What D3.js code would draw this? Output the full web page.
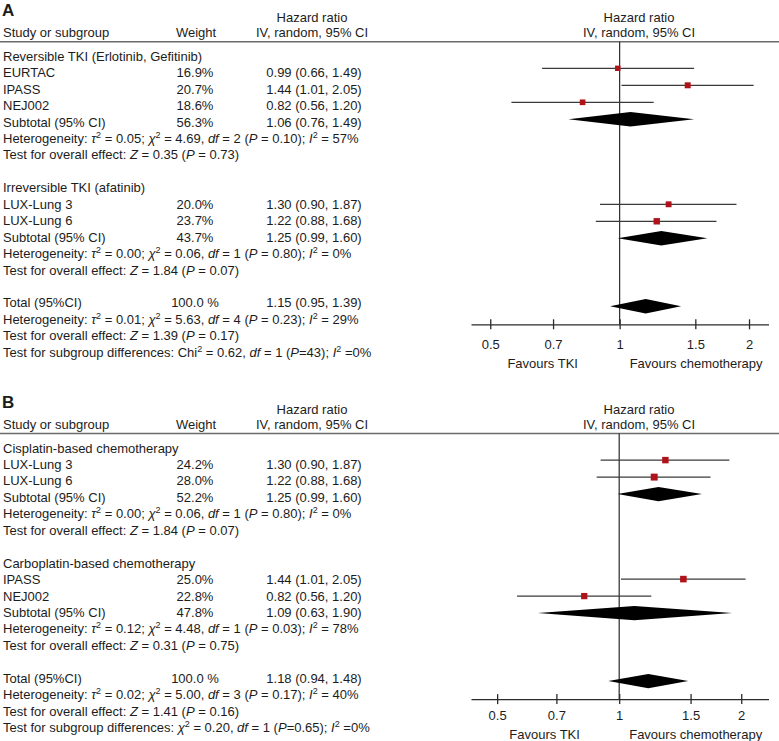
<!DOCTYPE html>
<html>
<head>
<meta charset="utf-8">
<script src="https://cdn.jsdelivr.net/npm/d3@7"></script>
<style>
  body { margin: 0; background: #fff; }
  text { font-family: "Liberation Sans", Arial, sans-serif; fill: #1c1c1c; }
</style>
</head>
<body>
<svg id="plot-space" width="779" height="741"></svg>
<script>
// ---- panel A : TKI type ----
const groupsA = ["Reversible TKI (Erlotinib, Gefitinib)", "Irreversible TKI (afatinib)"];
const studiesA = ["EURTAC", "IPASS", "NEJ002", "LUX-Lung 3", "LUX-Lung 6"];
const studyGroupA = [0, 0, 0, 1, 1];
const weightsA = [16.9, 20.7, 18.6, 20.0, 23.7];
const hrA = [0.99, 1.44, 0.82, 1.30, 1.22];
const lowA = [0.66, 1.01, 0.56, 0.90, 0.88];
const highA = [1.49, 2.05, 1.20, 1.87, 1.68];
const subWeightA = [56.3, 43.7];
const subHrA = [1.06, 1.25];
const subLowA = [0.76, 0.99];
const subHighA = [1.49, 1.60];
const hetA = [
  "Heterogeneity: {i:τ}{s:2} = 0.05; {i:χ}{s:2} = 4.69, {i:df} = 2 ({i:P} = 0.10); {i:I}{s:2} = 57%",
  "Heterogeneity: {i:τ}{s:2} = 0.00; {i:χ}{s:2} = 0.06, {i:df} = 1 ({i:P} = 0.80); {i:I}{s:2} = 0%"];
const effectA = [
  "Test for overall effect: {i:Z} = 0.35 ({i:P} = 0.73)",
  "Test for overall effect: {i:Z} = 1.84 ({i:P} = 0.07)"];
const totalA = [1.15, 0.95, 1.39];
const totalTextA = [
  "Heterogeneity: {i:τ}{s:2} = 0.01; {i:χ}{s:2} = 5.63, {i:df} = 4 ({i:P} = 0.23); {i:I}{s:2} = 29%",
  "Test for overall effect: {i:Z} = 1.39 ({i:P} = 0.17)",
  "Test for subgroup differences: Chi{s:2} = 0.62, {i:df} = 1 ({i:P}=43); {i:I}{s:2} =0%"];

// ---- panel B : chemotherapy type ----
const groupsB = ["Cisplatin-based chemotherapy", "Carboplatin-based chemotherapy"];
const studiesB = ["LUX-Lung 3", "LUX-Lung 6", "IPASS", "NEJ002"];
const studyGroupB = [0, 0, 1, 1];
const weightsB = [24.2, 28.0, 25.0, 22.8];
const hrB = [1.30, 1.22, 1.44, 0.82];
const lowB = [0.90, 0.88, 1.01, 0.56];
const highB = [1.87, 1.68, 2.05, 1.20];
const subWeightB = [52.2, 47.8];
const subHrB = [1.25, 1.09];
const subLowB = [0.99, 0.63];
const subHighB = [1.60, 1.90];
const hetB = [
  "Heterogeneity: {i:τ}{s:2} = 0.00; {i:χ}{s:2} = 0.06, {i:df} = 1 ({i:P} = 0.80); {i:I}{s:2} = 0%",
  "Heterogeneity: {i:τ}{s:2} = 0.12; {i:χ}{s:2} = 4.48, {i:df} = 1 ({i:P} = 0.03); {i:I}{s:2} = 78%"];
const effectB = [
  "Test for overall effect: {i:Z} = 1.84 ({i:P} = 0.07)",
  "Test for overall effect: {i:Z} = 0.31 ({i:P} = 0.75)"];
const totalB = [1.18, 0.94, 1.48];
const totalTextB = [
  "Heterogeneity: {i:τ}{s:2} = 0.02; {i:χ}{s:2} = 5.00, {i:df} = 3 ({i:P} = 0.17); {i:I}{s:2} = 40%",
  "Test for overall effect: {i:Z} = 1.41 ({i:P} = 0.16)",
  "Test for subgroup differences: {i:χ}{s:2} = 0.20, {i:df} = 1 ({i:P}=0.65); {i:I}{s:2} =0%"];

const tickVals = [0.5, 0.7, 1, 1.5, 2];

const canvas = d3.select("svg");
const FS = 13;
const f2 = d3.format(".2f");
const hrText = (h, l, u) => `${f2(h)} (${f2(l)}, ${f2(u)})`;
const boxSize = d3.scaleSqrt().domain([0, 30]).range([0, 7.2]);

// {i:..} italic, {s:..} superscript
function rich(t, str) {
  let shift = 0;
  str.split(/(\{[is]:[^}]*\})/).forEach(p => {
    if (!p) return;
    const m = p.match(/^\{([is]):([^}]*)\}$/);
    const ts = t.append("tspan");
    if (m && m[1] === "s") {
      ts.attr("dy", -5).attr("font-size", 9).text(m[2]);
      shift = 5;
      return;
    }
    if (m) ts.attr("font-style", "italic").text(m[2]);
    else ts.text(p);
    if (shift) { ts.attr("dy", shift); shift = 0; }
  });
}

function drawPanel(p) {
  const g = canvas.append("g");
  const top = p.top;
  const textY = r => top + 14.3 + 16.45 * r + 4.7;
  const plotY = r => top + 9.6 + 17 * r;
  const x = d3.scaleLog().domain(p.domain).range([471, 768.5]);

  // build rows
  let rows = [];
  let r = 0;
  p.groups.forEach((gName, gi) => {
    rows.push({ r: r++, label: gName });
    p.studies.forEach((s, i) => {
      if (p.studyGroup[i] !== gi) return;
      rows.push({ r: r++, label: s, weight: d3.format(".1f")(p.weights[i]) + "%",
        hr: p.hr[i], lo: p.low[i], hi: p.high[i], w: p.weights[i], type: "study" });
    });
    rows.push({ r: r++, label: "Subtotal (95% CI)", weight: d3.format(".1f")(p.subWeight[gi]) + "%",
      hr: p.subHr[gi], lo: p.subLow[gi], hi: p.subHigh[gi], type: "diamond" });
    rows.push({ r: r++, label: p.het[gi] });
    rows.push({ r: r++, label: p.effect[gi] });
    r++;
  });
  rows.push({ r: r++, label: "Total (95%CI)", weight: "100.0 %",
    hr: p.total[0], lo: p.total[1], hi: p.total[2], type: "diamond" });
  const totalRow = r - 1;
  p.totalText.forEach(tx => rows.push({ r: r++, label: tx }));

  // headers
  g.append("text").attr("x", 2).attr("y", top - 25.5)
    .attr("font-size", 17).attr("font-weight", "bold").text(p.letter);
  g.append("text").attr("x", 3).attr("y", top - 4.5).attr("font-size", FS).text("Study or subgroup");
  g.append("text").attr("x", 196).attr("y", top - 4.5).attr("font-size", FS)
    .attr("text-anchor", "middle").text("Weight");
  [312, 639].forEach(cx => {
    g.append("text").attr("x", cx).attr("y", top - 19.5).attr("font-size", FS)
      .attr("text-anchor", "middle").text("Hazard ratio");
    g.append("text").attr("x", cx).attr("y", top - 4.5).attr("font-size", FS)
      .attr("text-anchor", "middle").text("IV, random, 95% CI");
  });
  g.append("line").attr("x1", 0).attr("x2", 779).attr("y1", top).attr("y2", top)
    .attr("stroke", "#6b6b6b").attr("stroke-width", 1.4);

  // left text columns
  rows.forEach(d => {
    const t = g.append("text").attr("x", 3).attr("y", textY(d.r)).attr("font-size", FS);
    rich(t, d.label);
    if (d.weight) {
      g.append("text").attr("x", 195).attr("y", textY(d.r)).attr("font-size", FS)
        .attr("text-anchor", "middle").text(d.weight);
      g.append("text").attr("x", 314).attr("y", textY(d.r)).attr("font-size", FS)
        .attr("text-anchor", "middle").text(hrText(d.hr, d.lo, d.hi));
    }
  });

  const axisY = plotY(totalRow) + 18;

  // line of no effect
  g.append("line").attr("x1", x(1)).attr("x2", x(1)).attr("y1", top).attr("y2", axisY)
    .attr("stroke", "#2b2b2b").attr("stroke-width", 1.2);

  // study CIs and boxes
  const st = rows.filter(d => d.type === "study");
  g.selectAll(".ci").data(st).join("line")
    .attr("x1", d => x(d.lo)).attr("x2", d => x(d.hi))
    .attr("y1", d => plotY(d.r)).attr("y2", d => plotY(d.r))
    .attr("stroke", "#3a3a3a").attr("stroke-width", 1.2);
  g.selectAll(".box").data(st).join("rect")
    .attr("x", d => x(d.hr) - boxSize(d.w) / 2)
    .attr("y", d => plotY(d.r) - boxSize(d.w) / 2)
    .attr("width", d => boxSize(d.w)).attr("height", d => boxSize(d.w))
    .attr("fill", "#b0121a");

  // pooled diamonds
  g.selectAll(".dia").data(rows.filter(d => d.type === "diamond")).join("path")
    .attr("d", d => {
      const y = plotY(d.r);
      return `M${x(d.lo)},${y}L${x(d.hr)},${y - 7.2}L${x(d.hi)},${y}L${x(d.hr)},${y + 7.2}Z`;
    })
    .attr("fill", "#000");

  // axis
  const ax = g.append("g").attr("transform", `translate(0,${axisY})`)
    .call(d3.axisBottom(x).tickValues(tickVals).tickFormat(d3.format("~g")).tickSizeOuter(0));
  ax.select(".domain").attr("stroke", "#2b2b2b").attr("stroke-width", 1.3);
  ax.selectAll(".tick line").attr("y1", -5).attr("y2", 5).attr("stroke", "#2b2b2b").attr("stroke-width", 1.3);
  ax.selectAll(".tick text").attr("y", p.labelDy).attr("dy", 0)
    .attr("font-size", FS).attr("font-family", "Liberation Sans, Arial, sans-serif").attr("fill", "#1c1c1c");
  g.append("text").attr("x", x(0.8)).attr("y", axisY + p.favDy).attr("font-size", FS)
    .attr("text-anchor", "end").text("Favours TKI");
  g.append("text").attr("x", x(1) + 10).attr("y", axisY + p.favDy).attr("font-size", FS)
    .text("Favours chemotherapy");
}

drawPanel({
  letter: "A", top: 41.7, domain: [0.451, 2.22], labelDy: 25, favDy: 43.5,
  groups: groupsA, studies: studiesA, studyGroup: studyGroupA, weights: weightsA,
  hr: hrA, low: lowA, high: highA, subWeight: subWeightA, subHr: subHrA,
  subLow: subLowA, subHigh: subHighA, het: hetA, effect: effectA,
  total: totalA, totalText: totalTextA
});
drawPanel({
  letter: "B", top: 433.5, domain: [0.431, 2.335], labelDy: 21, favDy: 39.5,
  groups: groupsB, studies: studiesB, studyGroup: studyGroupB, weights: weightsB,
  hr: hrB, low: lowB, high: highB, subWeight: subWeightB, subHr: subHrB,
  subLow: subLowB, subHigh: subHighB, het: hetB, effect: effectB,
  total: totalB, totalText: totalTextB
});
</script>
</body>
</html>
